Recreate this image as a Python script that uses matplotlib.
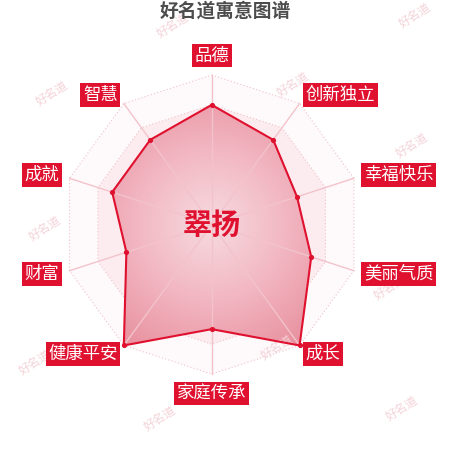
import numpy as np
import matplotlib
matplotlib.use("Agg")
import matplotlib.pyplot as plt
from matplotlib.patches import Polygon
from matplotlib.colors import LinearSegmentedColormap

plt.rcParams['font.family'] = ['Noto Sans CJK SC', 'DejaVu Sans']

# data
categories = ['品德', '创新独立', '幸福快乐', '美丽气质', '成长',
              '家庭传承', '健康平安', '财富', '成就', '智慧']
values = [80, 70, 60, 70, 100, 70, 100, 60, 70, 70]
max_value = 100
name = '翠扬'
title = '好名道寓意图谱'
watermark = '好名道'
# watermark centres in pixels (x, y from top)
wm_pos = [(173, 25), (415, 15), (52, 93), (293, 84), (412, 145),
          (45, 228), (390, 287), (35, 362), (277, 347), (160, 418), (402, 408)]

RED = '#e0102f'
W = H = 450
cx, cy, R = 211.7, 224.5, 149.5   # radar centre / radius in px

fig = plt.figure(figsize=(4.5, 4.5), dpi=100)
ax = fig.add_axes([0, 0, 1, 1])
ax.set_xlim(-cx / R, (W - cx) / R)
ax.set_ylim(-(H - cy) / R, cy / R)
ax.axis('off')

n = len(categories)
ang = np.arange(n) * 2 * np.pi / n
sx, sy = np.sin(ang), np.cos(ang)

# background rings
ring_cols = {1.0: '#fef9fa', 0.8: '#fcecef', 0.6: '#fae3e8', 0.4: '#f8dde2', 0.2: '#f7d8de'}
for lev in [1.0, 0.8, 0.6, 0.4, 0.2]:
    ax.add_patch(Polygon(np.c_[sx * lev, sy * lev], closed=True,
                         facecolor=ring_cols[lev], edgecolor='#f0c2cb',
                         linestyle=(0, (1, 2)), linewidth=0.8, zorder=1))

# data polygon with radial gradient
r = np.array(values) / max_value
px, py = sx * r, sy * r
poly = Polygon(np.c_[px, py], closed=True, facecolor='none',
               edgecolor=RED, linewidth=1.5, zorder=5)
ax.add_patch(poly)
gx, gy = np.meshgrid(np.linspace(-1, 1, 300), np.linspace(-1, 1, 300))
grad = np.sqrt(gx ** 2 + gy ** 2)
cmap = LinearSegmentedColormap.from_list('g', ['#f7dbe0', '#f2b7c2', '#e8909e'])
im = ax.imshow(grad, extent=[-1, 1, -1, 1], origin='lower', cmap=cmap,
               vmin=0, vmax=1.0, zorder=3, interpolation='bilinear')
im.set_clip_path(poly)

# spokes
for x, y in zip(sx, sy):
    ax.plot([0, x], [0, y], color='#f3c3cc', linewidth=1, zorder=4)

ax.scatter(px, py, s=14, color=RED, zorder=6, linewidths=0)

# axis names
lr = 160 / R
for lab, x, y in zip(categories, sx, sy):
    ha = 'center' if abs(x) < 1e-6 else ('left' if x > 0 else 'right')
    va = 'center' if abs(x) > 1e-6 else ('bottom' if y > 0 else 'top')
    ax.text(x * lr, y * lr, lab, ha=ha, va=va, color='white', fontsize=12.5,
            zorder=8, bbox=dict(boxstyle='square,pad=0.15', facecolor=RED,
                                edgecolor='none'))

ax.text(0, 0, name, ha='center', va='center', color=RED, fontsize=21,
        fontweight='bold', zorder=7)

# watermarks sit under the label boxes
for x, y in wm_pos:
    ax.text(x / W, 1 - y / H, watermark, transform=fig.transFigure,
            ha='center', va='center', color='#f4d2d8', fontsize=8.5,
            rotation=33, zorder=4.5, clip_on=False)

fig.text(0.5, 1 - 11 / H, title, ha='center', va='center', color='#4d4d4d',
         fontsize=13.5, fontweight='bold', zorder=9)

fig.savefig('out.png', dpi=100)
